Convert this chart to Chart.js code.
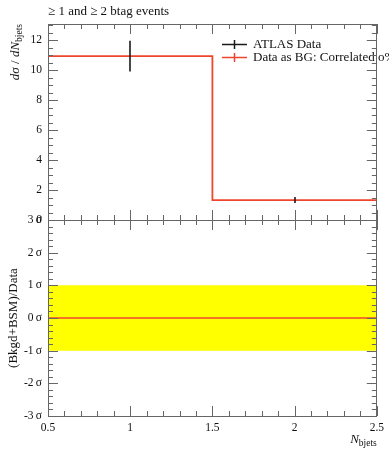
<!DOCTYPE html>
<html><head><meta charset="utf-8">
<script src="https://cdn.jsdelivr.net/npm/chart.js@4/dist/chart.umd.min.js"></script>
<style>html,body{margin:0;padding:0;background:#fff;overflow:hidden}#wrap{width:389px;height:450px;position:relative}</style>
</head><body><div id="wrap"><canvas id="c" width="389" height="450"></canvas></div>
<script>
const titleText = '\u2265 1 and \u2265 2 btag events';
const binEdges = [0.5, 1.5, 2.5];
const binCenters = [1, 2];
const atlasValues = [10.93, 1.33];
const atlasErrors = [1.02, 0.2];
const bgValues = [10.93, 1.33];
const ratioBandLow = [-1, -1];
const ratioBandHigh = [1, 1];
const ratioCentral = [0, 0];
const xTicks = [0.5, 1, 1.5, 2, 2.5];
const yTopTicks = [0, 2, 4, 6, 8, 10, 12];
const yBottomTicks = [-3, -2, -1, 0, 1, 2, 3];
const legendLabels = ['ATLAS Data', 'Data as BG: Correlated o%'];

const SERIF = '"Liberation Serif", "DejaVu Serif", serif';
const RED = 'rgb(238,70,44)';

function stepPoints(edges, vals) {
  const pts = vals.map((v, i) => ({ x: edges[i], y: v }));
  pts.push({ x: edges[edges.length - 1], y: vals[vals.length - 1] });
  return pts;
}
function edgePoints(edges, vals) {
  return [{ x: edges[0], y: vals[0] }, { x: edges[edges.length - 1], y: vals[vals.length - 1] }];
}

const deco = {
  id: 'deco',
  afterDatasetsDraw(chart) {
    const { ctx, scales: { x, y } } = chart;
    ctx.save();
    ctx.strokeStyle = '#1a1a1a';
    ctx.lineWidth = 1.6;
    binCenters.forEach((c, i) => {
      const px = Math.round(x.getPixelForValue(c));
      ctx.beginPath();
      ctx.moveTo(px, y.getPixelForValue(atlasValues[i] - atlasErrors[i]));
      ctx.lineTo(px, y.getPixelForValue(atlasValues[i] + atlasErrors[i]));
      ctx.stroke();
    });
    ctx.restore();
  },
  afterDraw(chart) {
    const { ctx, scales: { x, y, y2 } } = chart;
    ctx.save();
    ctx.fillStyle = '#111';
    ctx.font = '13px ' + SERIF;
    ctx.textBaseline = 'alphabetic';
    ctx.textAlign = 'left';
    ctx.fillText(titleText, 48, 15);

    const legColors = ['#1a1a1a', RED];
    const legY = [44, 57];
    legendLabels.forEach((t, i) => {
      ctx.strokeStyle = legColors[i];
      ctx.lineWidth = 1.5;
      ctx.beginPath();
      ctx.moveTo(222, legY[i] + 0.5); ctx.lineTo(247, legY[i] + 0.5);
      ctx.moveTo(234.5, legY[i] - 4); ctx.lineTo(234.5, legY[i] + 5);
      ctx.stroke();
      ctx.fillStyle = '#111';
      ctx.font = '13px ' + SERIF;
      ctx.textBaseline = 'middle';
      ctx.fillText(t, 253, legY[i] + 1);
    });

    const frameCol = '#666';
    function panel(ys, vmin, vmax, minorStep, majorEvery) {
      const L = x.left, R = x.right, T = ys.top, B = ys.bottom;
      ctx.strokeStyle = frameCol;
      ctx.lineWidth = 1;
      ctx.strokeRect(Math.round(L) + 0.5, Math.round(T) + 0.5, Math.round(R - L) - 1, Math.round(B - T));
      ctx.beginPath();
      for (let k = 5; k <= 25; k++) {
        const v = k / 10;
        const px = Math.round(x.getPixelForValue(v)) + 0.5;
        const len = (k % 5 === 0) ? 10 : 5;
        ctx.moveTo(px, B); ctx.lineTo(px, B - len);
        ctx.moveTo(px, T); ctx.lineTo(px, T + len);
      }
      const n0 = Math.round(vmin / minorStep), n1 = Math.round(vmax / minorStep);
      for (let k = n0; k <= n1; k++) {
        const v = k * minorStep;
        if (v > ys.max + 1e-9 || v < ys.min - 1e-9) continue;
        const py = Math.round(ys.getPixelForValue(v)) + 0.5;
        const len = (k % majorEvery === 0) ? 10 : 5;
        ctx.moveTo(L, py); ctx.lineTo(L + len, py);
        ctx.moveTo(R, py); ctx.lineTo(R - len, py);
      }
      ctx.stroke();
    }
    panel(y, 0, 13, 0.5, 4);
    panel(y2, -3, 3, 0.2, 5);

    ctx.fillStyle = '#111';
    ctx.textBaseline = 'alphabetic';
    const parts = [
      { t: 'd', f: 'italic 13px ' + SERIF, dy: 0 },
      { t: '\u03c3', f: 'italic 13px ' + SERIF, dy: 0 },
      { t: ' / ', f: '13px ' + SERIF, dy: 0 },
      { t: 'd', f: 'italic 13px ' + SERIF, dy: 0 },
      { t: 'N', f: 'italic 13px ' + SERIF, dy: 0 },
      { t: 'bjets', f: '9.5px ' + SERIF, dy: 3 }
    ];
    let tw = 0;
    parts.forEach(p => { ctx.font = p.f; p.w = ctx.measureText(p.t).width; tw += p.w; });
    ctx.save();
    ctx.translate(19, y.top);
    ctx.rotate(-Math.PI / 2);
    ctx.textAlign = 'left';
    let cx = -tw;
    parts.forEach(p => { ctx.font = p.f; ctx.fillText(p.t, cx, p.dy); cx += p.w; });
    ctx.restore();

    ctx.save();
    ctx.translate(17, y2.getPixelForValue(0));
    ctx.rotate(-Math.PI / 2);
    ctx.textAlign = 'center';
    ctx.font = '13px ' + SERIF;
    ctx.fillText('(Bkgd+BSM)/Data', 0, 0);
    ctx.restore();

    const xp = [
      { t: 'N', f: 'italic 13px ' + SERIF, dy: 0 },
      { t: 'bjets', f: '9.5px ' + SERIF, dy: 3 }
    ];
    let xw = 0;
    xp.forEach(p => { ctx.font = p.f; p.w = ctx.measureText(p.t).width; xw += p.w; });
    ctx.textAlign = 'left';
    let xx = x.right - xw;
    xp.forEach(p => { ctx.font = p.f; ctx.fillText(p.t, xx, 443 + p.dy); xx += p.w; });
    ctx.restore();
  }
};

const tickFont = { family: SERIF, size: 11.5 };

new Chart(document.getElementById('c'), {
  type: 'line',
  data: {
    datasets: [
      { label: 'band-high', data: edgePoints(binEdges, ratioBandHigh), yAxisID: 'y2', borderWidth: 0, pointRadius: 0, backgroundColor: '#ffff00', fill: '+1', order: 5 },
      { label: 'band-low', data: edgePoints(binEdges, ratioBandLow), yAxisID: 'y2', borderWidth: 0, pointRadius: 0, backgroundColor: '#ffff00', fill: false, order: 5 },
      { label: 'ratio', data: edgePoints(binEdges, ratioCentral), yAxisID: 'y2', borderColor: RED, borderWidth: 1.6, pointRadius: 0, fill: false, order: 2 },
      { label: legendLabels[1], data: stepPoints(binEdges, bgValues), yAxisID: 'y', stepped: 'before', borderColor: RED, borderWidth: 1.8, pointRadius: 0, fill: false, order: 1 },
      { label: legendLabels[0], data: binCenters.map((c, i) => ({ x: c, y: atlasValues[i] })), yAxisID: 'y', showLine: false, pointRadius: 0, order: 0 }
    ]
  },
  options: {
    responsive: false,
    animation: false,
    devicePixelRatio: 1,
    layout: { padding: { top: 24, right: 12, left: 0, bottom: 0 } },
    plugins: { legend: { display: false }, tooltip: { enabled: false } },
    scales: {
      x: {
        type: 'linear', min: 0.5, max: 2.5,
        grid: { display: false, drawTicks: false }, border: { display: false },
        afterBuildTicks: s => { s.ticks = xTicks.map(v => ({ value: v })); },
        ticks: { padding: 5, color: '#111', font: tickFont, maxRotation: 0, autoSkip: false, callback: v => String(v) },
        afterFit: s => { s.height = 34; }
      },
      y2: {
        type: 'linear', position: 'left', stack: 'v', stackWeight: 1, min: -3, max: 3,
        grid: { display: false, drawTicks: false }, border: { display: false },
        afterBuildTicks: s => { s.ticks = yBottomTicks.map(v => ({ value: v })); },
        ticks: { padding: 6, color: '#111', font: tickFont, callback: v => v + '\u2009\u03c3' },
        afterFit: s => { s.width = 48; }
      },
      y: {
        type: 'linear', position: 'left', stack: 'v', stackWeight: 1, min: 0, max: 13.07,
        grid: { display: false, drawTicks: false }, border: { display: false },
        afterBuildTicks: s => { s.ticks = yTopTicks.map(v => ({ value: v })); },
        ticks: { padding: 6, color: '#111', font: tickFont, callback: v => String(v) },
        afterFit: s => { s.width = 48; }
      }
    }
  },
  plugins: [deco]
});
</script>
</body></html>
